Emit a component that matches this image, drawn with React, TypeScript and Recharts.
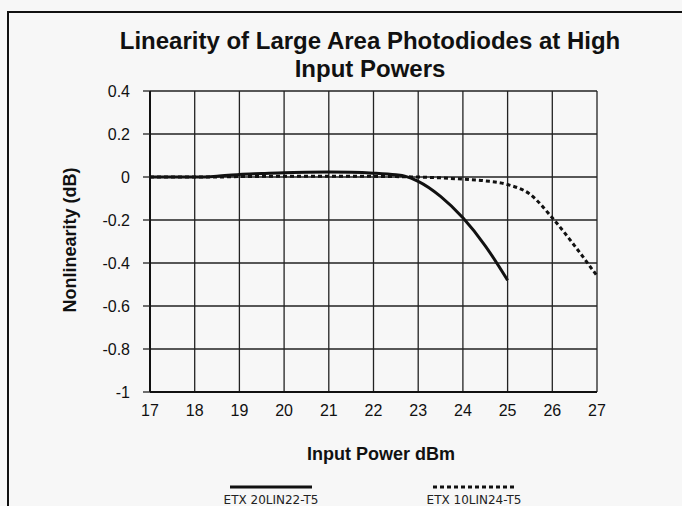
import { CartesianGrid, Legend, Line, LineChart, XAxis, YAxis } from "recharts"

const inputPower = [17, 17.5, 18, 18.5, 19, 19.5, 20, 20.5, 21, 21.5, 22, 22.5, 22.7, 23, 23.5, 24, 24.5, 25, 25.5, 26, 26.5, 27]
const etx20lin22 = [0, 0, 0, 0.004, 0.012, 0.016, 0.02, 0.022, 0.023, 0.022, 0.018, 0.01, 0.004, -0.02, -0.09, -0.19, -0.32, -0.48, null, null, null, null]
const etx10lin24 = [0, 0, 0, 0, 0.002, 0.003, 0.004, 0.004, 0.004, 0.004, 0.003, 0.002, 0.001, 0, -0.004, -0.01, -0.018, -0.035, -0.08, -0.19, -0.32, -0.46]
const xTicks = [17, 18, 19, 20, 21, 22, 23, 24, 25, 26, 27]
const yTicks = [0.4, 0.2, 0, -0.2, -0.4, -0.6, -0.8, -1]

const data = inputPower.map((x, i) => ({ x, a: etx20lin22[i], b: etx10lin24[i] }))

const font = "'Liberation Sans', Arial, sans-serif"

const LegendContent = () => (
  <div style={{ display: "flex", fontFamily: "'DejaVu Sans', sans-serif", fontSize: 12, lineHeight: "13px", color: "#222" }}>
    <div style={{ position: "absolute", left: 221, top: 0, width: 100, textAlign: "center" }}>
      <svg width={82} height={6} style={{ display: "block", margin: "0 auto" }}>
        <line x1={0} y1={3} x2={82} y2={3} stroke="#111" strokeWidth={3} />
      </svg>
      <div style={{ marginTop: 4 }}>ETX 20LIN22-T5</div>
    </div>
    <div style={{ position: "absolute", left: 424, top: 0, width: 100, textAlign: "center" }}>
      <svg width={82} height={6} style={{ display: "block", margin: "0 auto" }}>
        <line x1={0} y1={3} x2={82} y2={3} stroke="#111" strokeWidth={3} strokeDasharray="4 3" />
      </svg>
      <div style={{ marginTop: 4 }}>ETX 10LIN24-T5</div>
    </div>
  </div>
)

const App = () => {
  return (
    <div style={{ position: "absolute", left: 0, top: 0, width: 682, height: 506, background: "#f7f7f7", overflow: "hidden", fontFamily: font }}>
      <div style={{ position: "absolute", left: 7, top: 11, width: 680, height: 510, borderLeft: "2px solid #111", borderTop: "2px solid #111" }} />
      <div style={{ position: "absolute", left: 60, top: 27, width: 620, textAlign: "center", fontWeight: "bold", fontSize: 24, lineHeight: "28px", color: "#111" }}>
        Linearity of Large Area Photodiodes at High
        <br />
        Input Powers
      </div>
      <div style={{ position: "absolute", left: 70, top: 240, transform: "translate(-50%, -50%) rotate(-90deg)", whiteSpace: "nowrap", fontWeight: "bold", fontSize: 18, color: "#111" }}>
        Nonlinearity (dB)
      </div>
      <div style={{ position: "absolute", left: 381, top: 454, transform: "translate(-50%, -50%)", whiteSpace: "nowrap", fontWeight: "bold", fontSize: 18, color: "#111" }}>
        Input Power dBm
      </div>
      <LineChart width={682} height={506} data={data} margin={{ top: 91, right: 85, bottom: 84, left: 90 }} style={{ position: "absolute", left: 0, top: 0 }}>
        <CartesianGrid stroke="#222" strokeWidth={1.3} horizontalValues={yTicks} verticalValues={xTicks} />
        <XAxis
          dataKey="x"
          type="number"
          domain={[17, 27]}
          ticks={xTicks}
          tickLine={false}
          tickSize={0}
          tickMargin={13}
          axisLine={{ stroke: "#111", strokeWidth: 2 }}
          tick={{ fill: "#111", fontSize: 16, fontFamily: font }}
          height={30}
        />
        <YAxis
          type="number"
          domain={[-1, 0.4]}
          ticks={yTicks}
          tickSize={7}
          tickMargin={13}
          tickLine={{ stroke: "#222", strokeWidth: 1.3 }}
          axisLine={{ stroke: "#111", strokeWidth: 2 }}
          tick={{ fill: "#111", fontSize: 16, fontFamily: font }}
          tickFormatter={(v: number) => String(Number(v.toFixed(1)))}
          width={60}
        />
        <Legend content={<LegendContent />} wrapperStyle={{ position: "absolute", left: 0, top: 484, width: 682 }} />
        <Line type="monotone" dataKey="b" stroke="#111" strokeWidth={3} strokeDasharray="4 3" dot={false} isAnimationActive={false} />
        <Line type="monotone" dataKey="a" stroke="#111" strokeWidth={3} dot={false} connectNulls={false} isAnimationActive={false} />
      </LineChart>
    </div>
  )
}

export default App
